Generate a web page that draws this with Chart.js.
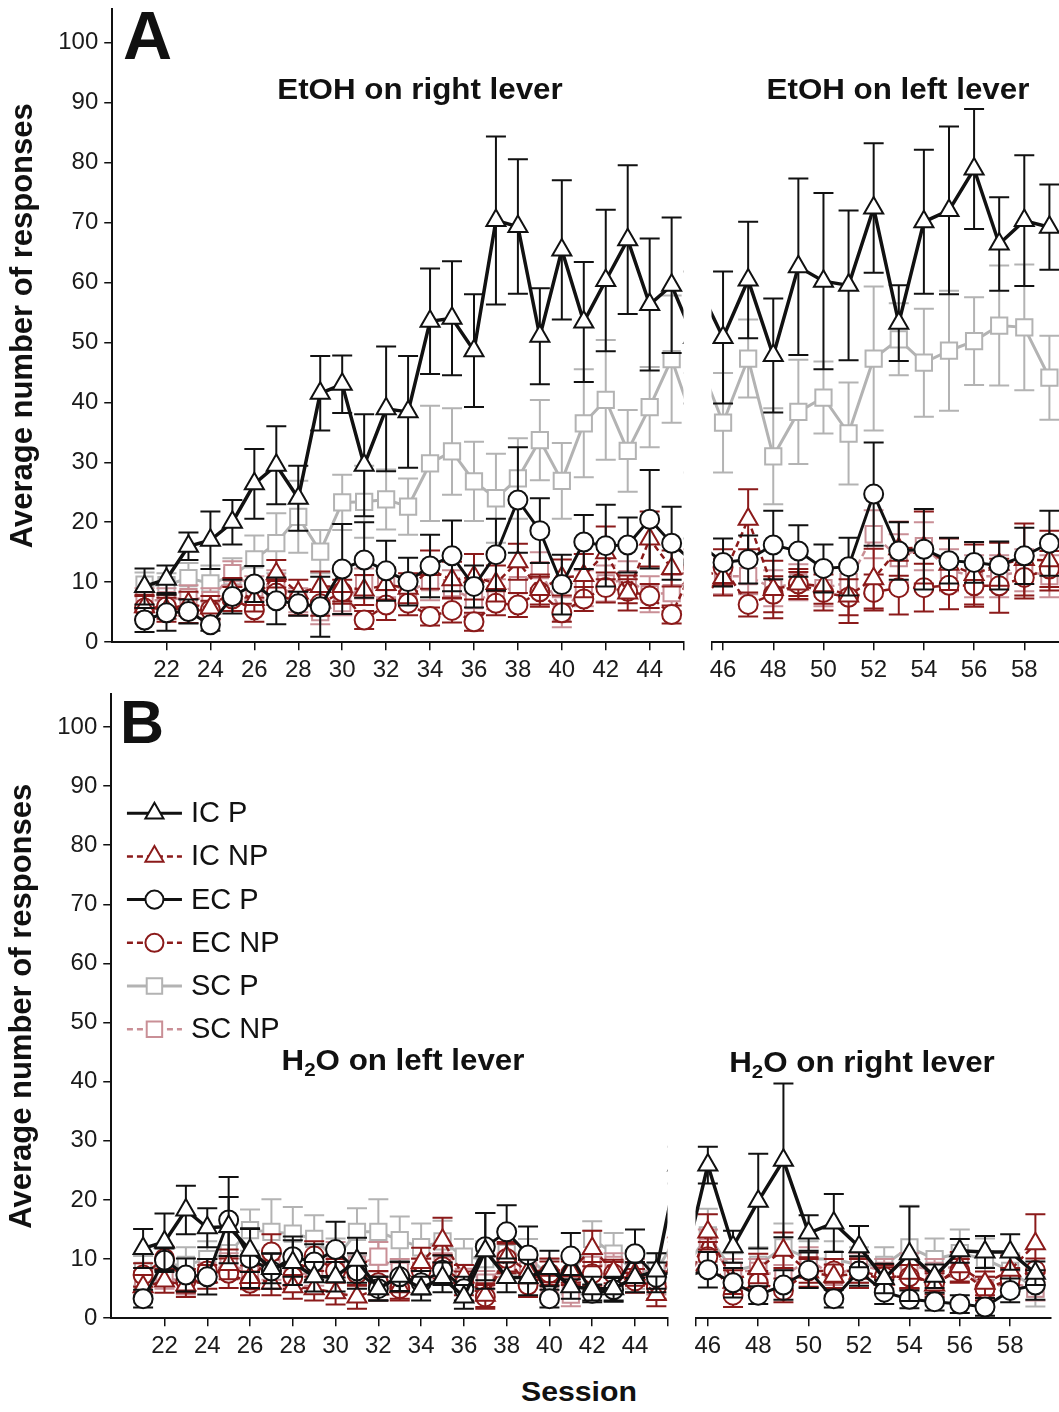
<!DOCTYPE html>
<html><head><meta charset="utf-8">
<script src="https://cdn.jsdelivr.net/npm/chart.js@4.4.1/dist/chart.umd.min.js"></script>
<style>
html,body{margin:0;padding:0;background:#fff;overflow:hidden;}
#wrap{position:relative;width:1059px;height:1412px;overflow:hidden;background:#fff;}
canvas{position:absolute;}
.lbl{position:absolute;font-family:"Liberation Sans",Arial,sans-serif;font-weight:bold;color:#111;line-height:1;white-space:nowrap;z-index:5;}
.ttl{font-size:29px;width:400px;text-align:center;transform:scaleX(1.08);transform-origin:50% 50%;}
.ttl sub{font-size:19px;vertical-align:-6px;line-height:0;}
</style></head><body>
<div id="wrap">
<canvas id="cA1"></canvas><canvas id="cA2"></canvas><canvas id="cB1"></canvas><canvas id="cB2"></canvas>
<div class="lbl" style="left:123px;top:1px;font-size:68px;">A</div>
<div class="lbl" style="left:120px;top:692px;font-size:61px;">B</div>
<div class="lbl ttl" style="left:220px;top:75px;">EtOH on right lever</div>
<div class="lbl ttl" style="left:698px;top:75px;">EtOH on left lever</div>
<div class="lbl ttl" style="left:203px;top:1046px;">H<sub>2</sub>O on left lever</div>
<div class="lbl ttl" style="left:662px;top:1048px;">H<sub>2</sub>O on right lever</div>
<div class="lbl" style="left:479px;top:1378px;width:200px;text-align:center;font-size:28px;transform:scaleX(1.08);">Session</div>
</div>
<script>
// ---------- data ----------
const sessions = [21,22,23,24,25,26,27,28,29,30,31,32,33,34,35,36,37,38,39,40,41,42,43,44,45,46,47,48,49,50,51,52,53,54,55,56,57,58,59];
const yTicks = [0,10,20,30,40,50,60,70,80,90,100];
const xTicksLeft = [22,24,26,28,30,32,34,36,38,40,42,44];
const xTicksRight = [46,48,50,52,54,56,58];
const seriesNames = ['IC P','IC NP','EC P','EC NP','SC P','SC NP'];

// Panel A (EtOH)
const A_IC_P = [9.3,10.5,16,17,20,26.4,29.5,24,41.5,43,29.5,38.9,38.4,53.5,54,48.6,70.3,69.3,51,65.4,53.4,60.3,67.1,56.3,59.5, 50.8,60.4,47.8,62.6,60.2,59.5,72.4,53.2,70.1,72,78.9,66.4,70.3,69.2];
const A_IC_P_err = [3,2.3,2.3,4.8,3.7,5.8,6.5,5.4,6.2,4.8,8.5,10.4,9.3,8.8,9.5,9.4,14,11.2,8,11.6,10,11.8,12.4,11,11.3, 11,9.7,9.5,14.7,14.7,12.5,10.8,6.3,12,14,10,7.8,10.9,7.1];
const A_IC_NP = [5.9,5.4,6.4,5.7,8.7,7.1,11.4,8.2,9.3,9.3,8.7,9.6,9,12.1,10.4,10.9,9.8,13.4,8.8,10.8,11.1,14.9,8.2,17.2,12.3, 10.8,20.5,8.8,9.7,9.4,7.7,10.6,15.6,15.8,13,11.3,13,13.8,13.6];
const A_IC_NP_err = [2,2,2,2,2,2,2.3,2.2,2.5,2.5,2.5,2.5,2.5,3.2,3,3.8,3,3,2.5,3,3.6,4.4,2.9,4.6,3, 3,5,4.8,2.5,3,4.5,5,4.5,6,4.3,5,3.6,6,5];
const A_EC_P = [3.7,4.9,5.1,2.9,7.6,9.7,6.9,6.4,5.9,12.2,13.7,11.9,10.1,12.7,14.4,9.3,14.6,23.7,18.6,9.6,16.7,16.1,16.2,20.5,16.5, 13.3,13.8,16.2,15.2,12.3,12.6,24.7,15.2,15.5,13.6,13.3,12.8,14.4,16.5];
const A_EC_P_err = [2,3,2,1,2.8,3,3.9,2,5,7.5,6.3,5,4,5.2,5.9,3.5,6,8.8,5.4,5,4.5,6.8,4.6,8.2,6.1, 4,4,5.7,4.3,4,4.8,8.6,4.8,6.7,3.8,3.4,4,4.7,5.4];
const A_EC_NP = [5.7,5.9,5.2,5.4,7.2,5.4,8.2,6.5,6.4,8.4,3.7,6.2,6.5,4.3,5.3,3.4,6.5,6.2,8.4,4.9,7.2,9.1,8.5,7.7,4.6, 12.5,6.3,8,9.7,8.3,7.5,8.3,9.1,9.1,9.5,9.4,9.4,10.8,12.2];
const A_EC_NP_err = [2,2,2,1.5,2,2,2,2,2,2,1.5,2.5,2,1.5,2,1.5,2,2,2.5,1.5,2,2.5,2,2,1.5, 3,2,3,2,3,3,3,4.5,4,4,3.5,4.5,3.5,3];
const A_SC_P = [9.6,9.5,10.7,9.8,11,13.8,16.5,20.9,15.1,23.3,23.4,23.8,22.6,29.8,31.8,26.8,24,27.3,33.7,26.9,36.5,40.4,31.9,39.2,47.2, 36.6,47.3,31,38.4,40.8,34.8,47.3,50.5,46.6,48.6,50.2,52.8,52.5,44.1];
const A_SC_P_err = [2,2,2.5,3,3,4,5,6,3.6,4.6,6,5,4.7,9.6,7.2,6.6,7.4,6.7,6.7,6.3,9,10,6.8,6.7,10.6, 8.3,6.5,8,8.7,6,8.5,12,6,9,10,7.3,10,10.5,7];
const A_SC_NP = [7,7,7.5,7,11.5,9,10,7,5,6.5,9.8,10,8.5,10,9,7,8,9.5,12,5,9,9.8,10.5,8,8.2, 11,11,9,10,9,10,18,14,16,12,11,11,12,11];
const A_SC_NP_err = [2,2,2,2,2,2,2,2,2,2,2.5,2.5,2.5,3,3,2.5,2.5,3,3,2.5,3,3,3,3,3, 3,3,3,3,3,3,4,4,4,3.5,3.5,3.5,3.5,3.5];

// Panel B (H2O)
const B_IC_P = [11.8,12.9,18.3,15.3,15.5,11.5,8.4,9.4,7,7,9.8,5,7.1,5,6.9,3.6,11.4,6.9,6.9,8.4,5.3,5,5,6.9,8, 25.9,12.1,19.8,26.7,14.4,16.1,12.1,6.7,10.9,7.1,11.4,11.2,11.2,7.6];
const B_IC_P_err = [3.3,4.8,4.1,3.3,5,3.7,2.5,3.8,2.5,2.5,3.8,2,2.5,2,2.5,2,6.4,2.5,3,3,2,2,2,2.5,3, 3.1,2.7,8,13,3,4.9,3.5,2.5,8,2,2,2.7,3,2];
const B_IC_NP = [5.3,6.3,5.6,7,9.1,6.9,5.9,5.3,5,4.3,3.6,5,5.3,9.4,13.2,7,3.9,10.4,7.9,8.1,8,11.8,7.9,7.5,4, 14.6,6.1,8.4,11.5,7.8,7.1,7.6,6.6,7.6,5.6,8.7,5.9,8.1,12.6];
const B_IC_NP_err = [2,2,2,2,2.5,2,2,2,2,2,2,2,2,2.5,3.8,2,2,2.5,2,2,2,3,2,2,2, 3,2,2.5,3,2.5,2,2.5,2,2.5,2,2.5,2,2.5,5];
const B_EC_P = [3.3,9.8,7.3,7,16.6,10.1,8,10.4,9.5,11.6,8,5,7,6,8.1,5,12.1,14.6,10.7,3.3,10.5,4.2,4.8,10.9,6.9, 8.2,6,3.9,5.6,8.1,3.3,8,4.4,3.2,2.8,2.4,1.9,4.7,5.6];
const B_EC_P_err = [1.5,2,2.8,3,7.3,5,3,3.4,3,4.7,3,2,2.5,2,2.5,2,5.7,4.5,4.8,1.5,3.9,1.5,2,4.1,2.5, 3,2.5,1.5,2.5,3,1.5,2.5,2,1.5,1.5,1.5,1.5,2,2.5];
const B_EC_NP = [7.3,10.1,6.3,8,7.6,5.9,11.2,7,10.5,8,7.5,6,5,8.1,8.7,5.9,3.6,10.1,5.6,7.6,7.6,7.5,7.5,6.3,5.3, 10.4,3.9,6,4.7,8,8,8,7,7,6,8,5,6.5,8.1];
const B_EC_NP_err = [2,2,2,2,2.5,2,3,2,2.5,2,2,2,2,2,2,2,2,2.5,2,2,2,2,2,2,2, 2.5,2,2,2,2,2,2,2,2,2,2,2,2,2];
const B_SC_P = [8,9,9,10,11,14.9,14.6,14.3,13.4,10,14.6,14.6,13.2,12,13,10.4,10,11,10.4,7,7,13.4,10.9,8,8, 14,8,9,12,10,10,9,9,12,10,11,10,8,5];
const B_SC_P_err = [2.5,3,3,3,3.5,3.5,5.5,4.5,4,3.5,4,5.5,4,4,3.5,3,3,3.5,3,3,3,3,3.5,3,3, 4.5,3,3,4,3,3,3,3,7,3.5,4,3.5,3,3];
const B_SC_NP = [6,7,6,8,9,8,9,7,8,10.4,9,10.4,8,8,9,7,6,9,8,5,4,9,9,8,6, 12,8,8,7,10,7,9,8,9,8,9,5,6,5];
const B_SC_NP_err = [2,2,2,2,2,2,2.5,2,2.5,2.5,2,2.5,2,2,2,2,2,2,2,2,2,2,2,2,2, 3,2,2,2,2,2,2,2,2,2,2,2,2,2];

// ---------- styling ----------
const FONT = '"Liberation Sans", Arial, sans-serif';
Chart.defaults.font.family = FONT;
Chart.defaults.color = '#111';
const DARKRED = '#8b1a1a';
const styles = [
  {color:'#111111', width:3.5, dash:[],    point:'triangle', r:11,  order:0},
  {color:DARKRED,   width:2.5, dash:[6,4], point:'triangle', r:11,  order:2},
  {color:'#111111', width:3,   dash:[],    point:'circle',   r:9.5, order:1},
  {color:DARKRED,   width:2.5, dash:[6,4], point:'circle',   r:9.5, order:3},
  {color:'#b3b3b3', width:3,   dash:[],    point:'rect',     r:11.5,order:5},
  {color:'#c98f96', width:2.5, dash:[6,4], point:'rect',     r:11.5,order:4}
];

function makeDatasets(means, errs) {
  return seriesNames.map((name, i) => {
    const st = styles[i];
    return {
      label: name,
      data: sessions.map((s, k) => ({x: s, y: means[i][k]})),
      errors: errs[i],
      borderColor: st.color, borderWidth: st.width, borderDash: st.dash,
      pointStyle: st.point, pointRadius: st.r, pointHoverRadius: st.r,
      pointBorderWidth: 2, pointBackgroundColor: '#ffffff', pointBorderColor: st.color,
      tension: 0, fill: false, order: st.order,
      clip: {left: 0, right: 0, top: 20, bottom: 0}
    };
  });
}

const errorBars = {
  id: 'errorBars',
  beforeDatasetDraw(chart, args) {
    const ds = chart.data.datasets[args.index];
    if (!ds.errors) return;
    const xs = chart.scales.x, ys = chart.scales.y, a = chart.chartArea, ctx = chart.ctx;
    ctx.save();
    ctx.beginPath(); ctx.rect(a.left, a.top, a.right - a.left, a.bottom - a.top); ctx.clip();
    ctx.strokeStyle = ds.borderColor; ctx.lineWidth = 2; ctx.setLineDash([]);
    ds.data.forEach((p, k) => {
      if (p.x < xs.min - 1 || p.x > xs.max + 1) return;
      const e = ds.errors[k];
      const x = xs.getPixelForValue(p.x);
      const yt = ys.getPixelForValue(p.y + e);
      const yb = ys.getPixelForValue(Math.max(0, p.y - e));
      ctx.beginPath();
      ctx.moveTo(x, yt); ctx.lineTo(x, yb);
      ctx.moveTo(x - 10, yt); ctx.lineTo(x + 10, yt);
      ctx.moveTo(x - 10, yb); ctx.lineTo(x + 10, yb);
      ctx.stroke();
    });
    ctx.restore();
  }
};

function drawMarker(ctx, style, x, y, r, color) {
  ctx.beginPath();
  if (style === 'triangle') {
    ctx.moveTo(x, y - r); ctx.lineTo(x + r * 0.866, y + r * 0.5); ctx.lineTo(x - r * 0.866, y + r * 0.5); ctx.closePath();
  } else if (style === 'rect') {
    const s = r * Math.SQRT1_2; ctx.rect(x - s, y - s, 2 * s, 2 * s);
  } else {
    ctx.arc(x, y, r, 0, Math.PI * 2);
  }
  ctx.fillStyle = '#fff'; ctx.fill();
  ctx.lineWidth = 2; ctx.strokeStyle = color; ctx.stroke();
}

const manualLegend = {
  id: 'manualLegend',
  afterDatasetsDraw(chart, args, opts) {
    if (!opts || !opts.show) return;
    const ctx = chart.ctx, a = chart.chartArea;
    chart.data.datasets.forEach((ds, i) => {
      const y = a.top + opts.top + i * opts.gap;
      const x0 = a.left + opts.left, x1 = x0 + opts.lineLen, xm = (x0 + x1) / 2;
      ctx.save();
      ctx.strokeStyle = ds.borderColor; ctx.lineWidth = Math.min(ds.borderWidth, 3);
      ctx.setLineDash(ds.borderDash || []);
      ctx.beginPath(); ctx.moveTo(x0, y); ctx.lineTo(x1, y); ctx.stroke();
      ctx.setLineDash([]);
      drawMarker(ctx, ds.pointStyle, xm, y, ds.pointRadius * 0.95, ds.pointBorderColor);
      ctx.fillStyle = '#111'; ctx.font = '29px ' + FONT;
      ctx.textBaseline = 'middle'; ctx.textAlign = 'left';
      ctx.fillText(ds.label, a.left + opts.textLeft, y + 1);
      ctx.restore();
    });
  }
};

function makeConfig(datasets, seg) {
  const xTicks = seg.side === 'left' ? xTicksLeft : xTicksRight;
  return {
    type: 'line',
    data: { datasets },
    plugins: [errorBars, manualLegend],
    options: {
      responsive: false, maintainAspectRatio: false, animation: false,
      layout: { padding: 0 },
      plugins: { legend: { display: false }, tooltip: { enabled: false },
                 manualLegend: seg.legend || { show: false } },
      scales: {
        x: {
          type: 'linear', min: seg.min, max: seg.max,
          afterBuildTicks: s => {
            const t = xTicks.map(v => ({ value: v }));
            if (seg.side === 'left') t.push({ value: seg.max }); else t.unshift({ value: seg.min });
            s.ticks = t;
          },
          ticks: { callback: v => Number.isInteger(v) ? String(v) : '', font: { size: 24 }, color: '#1a1a1a',
                   padding: 6, autoSkip: false, maxRotation: 0, minRotation: 0 },
          grid: { drawOnChartArea: false, drawTicks: true, tickLength: 8, color: '#111', lineWidth: 1.5 },
          border: { display: true, color: '#111', width: 2 }
        },
        y: {
          type: 'linear', min: 0, max: 105.5, display: seg.side === 'left',
          afterBuildTicks: s => { s.ticks = yTicks.map(v => ({ value: v })); },
          ticks: { font: { size: 24 }, color: '#1a1a1a', padding: 6 },
          grid: { drawOnChartArea: false, drawTicks: true, tickLength: 8, color: '#111', lineWidth: 1.5 },
          border: { display: true, color: '#111', width: 2 },
          title: { display: true, text: 'Average number of responses', font: { size: 31, weight: 'bold' },
                   color: '#111', padding: { top: 0, bottom: 10 } }
        }
      }
    }
  };
}

function build(id, datasets, seg, target) {
  const cv = document.getElementById(id);
  const make = (w, h) => {
    cv.width = w; cv.height = h; cv.style.width = w + 'px'; cv.style.height = h + 'px';
    return new Chart(cv, makeConfig(datasets, seg));
  };
  const W0 = Math.round(target.w + 300), H0 = Math.round(target.h + 300);
  let ch = make(W0, H0);
  const a = ch.chartArea;
  const ml = a.left, mt = a.top, mr = W0 - a.right, mb = H0 - a.bottom;
  ch.destroy();
  ch = make(Math.round(ml + target.w + mr), Math.round(mt + target.h + mb));
  cv.style.left = Math.round(target.x - ml) + 'px';
  cv.style.top = Math.round(target.y - mt) + 'px';
  return ch;
}

const dsA = () => makeDatasets([A_IC_P, A_IC_NP, A_EC_P, A_EC_NP, A_SC_P, A_SC_NP],
                               [A_IC_P_err, A_IC_NP_err, A_EC_P_err, A_EC_NP_err, A_SC_P_err, A_SC_NP_err]);
const dsB = () => makeDatasets([B_IC_P, B_IC_NP, B_EC_P, B_EC_NP, B_SC_P, B_SC_NP],
                               [B_IC_P_err, B_IC_NP_err, B_EC_P_err, B_EC_NP_err, B_SC_P_err, B_SC_NP_err]);

build('cA1', dsA(), { side: 'left', min: 19.53, max: 45.54 }, { x: 112.5, y: 9, w: 570.8, h: 633 });
build('cA2', dsA(), { side: 'right', min: 45.54, max: 60 }, { x: 711.7, y: 9, w: 363, h: 633 });
build('cB1', dsB(), { side: 'left', min: 19.51, max: 45.52,
  legend: { show: true, top: 118.8, gap: 43.2, left: 15.7, lineLen: 55, textLeft: 79.7 } },
  { x: 111, y: 694.5, w: 556.7, h: 623.5 });
build('cB2', dsB(), { side: 'right', min: 45.51, max: 59.6 }, { x: 695, y: 694.5, w: 354.8, h: 623.5 });
</script>
</body></html>
